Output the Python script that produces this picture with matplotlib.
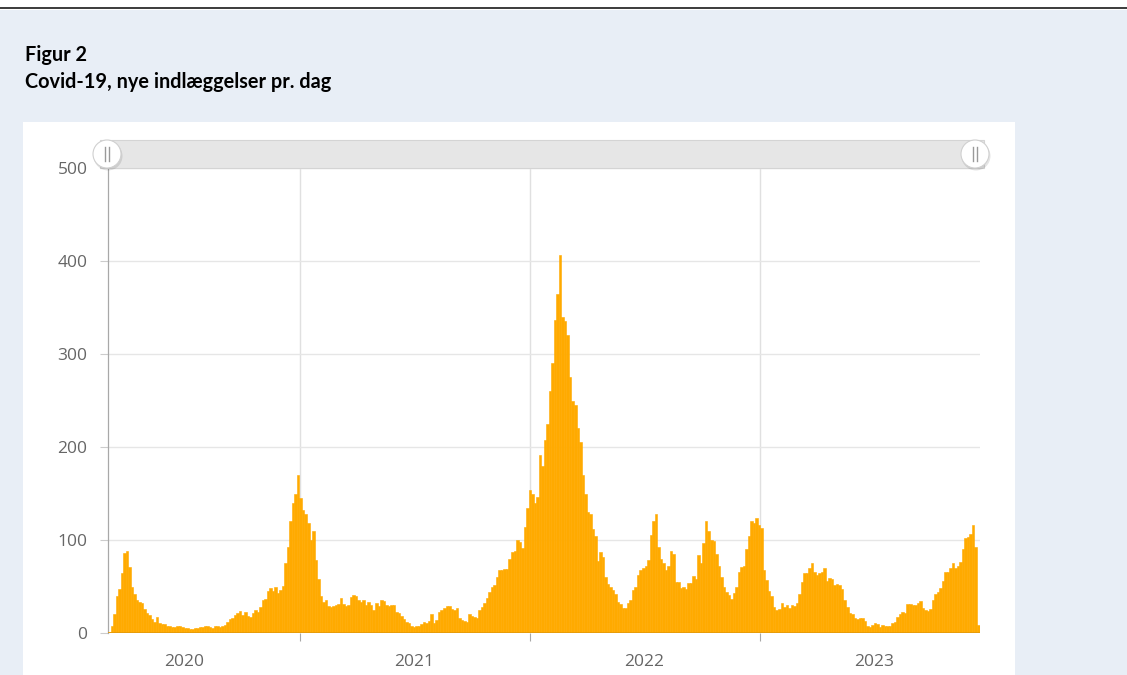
import matplotlib
matplotlib.use('Agg')
import matplotlib.pyplot as plt
from matplotlib.patches import Rectangle, Circle
import pandas as pd

# daily admissions in 4-day steps starting 2 March 2020
start_date = '2020-03-02'
step_days = 4
admissions = [
    1, 8, 20, 40, 47, 64, 86, 88, 71, 50,
    42, 36, 33, 32, 26, 21, 19, 15, 12, 17,
    11, 10, 10, 8, 7, 6, 6, 8, 7, 6,
    5, 5, 4, 4, 5, 5, 6, 6, 7, 8,
    6, 5, 7, 8, 6, 7, 9, 12, 15, 16,
    19, 22, 24, 19, 23, 18,
    17, 21, 25, 23, 28, 35, 37, 45, 48, 45,
    50, 43, 46, 51, 75, 92, 120, 140, 150, 170,
    145, 132, 128, 118, 100, 110, 78, 58, 40, 33,
    35, 29, 28, 29, 30, 31, 38, 31, 29, 30,
    39, 41, 40, 36, 33, 36, 30, 33, 30, 25,
    32, 29, 36, 34, 30, 29,
    30, 30, 23, 21, 18, 15, 12, 11, 8, 6,
    8, 8, 10, 12, 11, 13, 20, 11, 14, 23,
    25, 27, 29, 29, 26, 25, 27, 16, 14, 13,
    12, 20, 18, 17, 16, 25, 28, 32, 38, 44,
    50, 52, 60, 68,
    68, 69, 69, 80, 87, 88, 100, 98, 91, 114,
    134, 154, 150, 140, 146, 191, 180, 208, 225, 260,
    290, 337, 365, 406, 340, 335, 320, 275, 250, 245,
    220, 205, 170, 150, 130, 128, 112, 104, 77, 87,
    82, 60, 53, 50, 46, 42, 33, 31, 27, 27,
    32, 35, 46, 50, 62, 68, 70, 72, 78, 105,
    120, 128, 92, 80, 75, 68, 72, 88, 85, 55,
    55, 48, 50, 47, 54, 54, 61, 58, 84, 75,
    97, 120, 110, 100, 99, 85, 72, 60, 50, 44,
    41, 37, 43, 50, 66, 71, 72, 90, 104,
    120, 118, 124, 116, 113, 68, 57, 45, 40, 28,
    25, 26, 32, 28, 30, 27, 30, 29, 32, 42,
    55, 64, 64, 70, 75, 66, 62, 64, 66, 70,
    56, 59, 58, 52, 53, 52, 47, 36, 28, 22,
    20, 16, 15, 16, 16, 13, 8, 6,
    9, 11, 10, 6, 9, 8, 7, 8, 11, 12,
    17, 20, 23, 21, 31, 31, 30, 30, 32, 34,
    27, 25, 24, 26, 36, 42, 44, 48, 56, 66,
    66, 70, 75, 70, 72, 76, 90, 102, 103, 106,
    116, 93, 9,
]
year_labels = ['2020', '2021', '2022', '2023']
label_dates = ['2020-07-01', '2021-07-01', '2022-07-01', '2023-07-01']
year_starts = ['2021-01-01', '2022-01-01', '2023-01-01']
y_ticks = [0, 100, 200, 300, 400, 500]

title_1 = 'Figur 2'
title_2 = 'Covid-19, nye indlæggelser pr. dag'

dates = pd.date_range(start_date, periods=len(admissions), freq=f'{step_days}D')
end_date = dates[-1] + pd.Timedelta(days=step_days)

W, H = 1127, 675
px_per_day = 230 / 365.25

fig = plt.figure(figsize=(W / 100, H / 100), dpi=100)
fig.patch.set_facecolor('white')

# page background, white chart panel and rule at the top
bg = fig.add_axes([0, 0, 1, 1], zorder=0)
bg.set_xlim(0, W); bg.set_ylim(H, 0); bg.axis('off')
bg.add_patch(Rectangle((0, 10), W, H - 10, color='#E8EEF6', lw=0))
bg.add_patch(Rectangle((23, 122), 992, H - 122, color='white', lw=0))
bg.plot([0, W], [8, 8], color='#1a1a1a', lw=1.2)

fig.text(25 / W, 1 - 55 / H, title_1, fontsize=14.3, fontweight='bold',
         family='Lato', va='center', color='black')
fig.text(25 / W, 1 - 82 / H, title_2, fontsize=14.3, fontweight='bold',
         family='Lato', va='center', color='black')

# chart
n_days = (end_date - dates[0]).days
ax = fig.add_axes([108 / W, 42 / H, n_days * px_per_day / W, 465 / H], zorder=1)
ax.patch.set_alpha(0)
ax.bar(dates, admissions, width=step_days, align='edge', color='#FFAA00',
       edgecolor='#FFAA00', linewidth=0.4, zorder=2)
ax.plot([dates[0], end_date], [0, 0], color='#E39A0C', lw=1.2, zorder=3,
        solid_capstyle='butt')

ax.set_xlim(dates[0], end_date)
ax.set_ylim(0, 500)
ax.set_yticks(y_ticks)
ax.set_yticklabels([str(v) for v in y_ticks])
ax.set_xticks(pd.to_datetime(year_starts))
ax.set_xticklabels([])
ax.set_xticks(pd.to_datetime(label_dates), minor=True)
ax.set_xticklabels(year_labels, minor=True)

ax.grid(axis='y', color='#E6E6E6', lw=1)
ax.grid(axis='x', which='major', color='#E0E0E0', lw=1)
ax.set_axisbelow(True)

for s in ['top', 'right', 'bottom']:
    ax.spines[s].set_visible(False)
ax.spines['left'].set_color('#A8A8A8')
ax.spines['left'].set_linewidth(0.9)

ax.tick_params(axis='y', length=5.8, width=0.8, color='#CCCCCC', pad=9,
               labelsize=12.5, labelcolor='#666666')
ax.tick_params(axis='x', which='major', length=5.8, width=0.8, color='#A8A8A8')
ax.tick_params(axis='x', which='minor', length=0, pad=15,
               labelsize=12.5, labelcolor='#666666')
for lab in ax.get_yticklabels() + ax.get_xticklabels(minor=True):
    lab.set_family('Open Sans')

# range slider drawn over the top of the plot
sl = fig.add_axes([0, 0, 1, 1], zorder=3)
sl.set_xlim(0, W); sl.set_ylim(H, 0); sl.axis('off')
sl.patch.set_alpha(0)
sl.add_patch(Rectangle((100, 140), 884, 28, facecolor='#E6E6E6',
                       edgecolor='#D4D4D4', lw=0.8))
for hx in [107, 975]:
    sl.add_patch(Circle((hx + 1, 156), 14.5, color='black', alpha=0.10, lw=0))
    sl.add_patch(Circle((hx, 154), 14, facecolor='white', edgecolor='#D0D0D0', lw=0.8))
    for dx in [-2, 2]:
        sl.plot([hx + dx, hx + dx], [147, 161], color='#9A9A9A', lw=1)

fig.savefig('out.png', dpi=100)
